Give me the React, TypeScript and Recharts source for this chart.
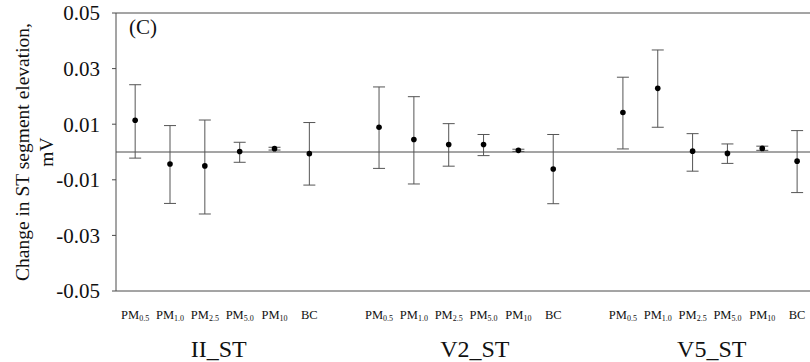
import {
  ComposedChart,
  Scatter,
  ErrorBar,
  XAxis,
  YAxis,
  ReferenceLine,
} from "recharts";

// change in ST segment elevation (mV), mean with 95% CI
const categories = ["PM0.5", "PM1.0", "PM2.5", "PM5.0", "PM10", "BC"];
const groups = ["II_ST", "V2_ST", "V5_ST"];
const groupLabelPos = [2.4, 9.75, 16.55];
const yTicks = [-0.05, -0.03, -0.01, 0.01, 0.03, 0.05];

const iiMean = [0.0114, -0.0043, -0.005, 0.0002, 0.0012, -0.0006];
const iiLow = [-0.0022, -0.0185, -0.0223, -0.0037, 0.0007, -0.0119];
const iiHigh = [0.0242, 0.0095, 0.0115, 0.0035, 0.0017, 0.0106];

const v2Mean = [0.0089, 0.0045, 0.0027, 0.0027, 0.0006, -0.0061];
const v2Low = [-0.0059, -0.0115, -0.0051, -0.0013, 0.0002, -0.0186];
const v2High = [0.0234, 0.0199, 0.0102, 0.0063, 0.001, 0.0063];

const v5Mean = [0.0142, 0.0229, 0.0003, -0.0005, 0.0013, -0.0033];
const v5Low = [0.0011, 0.0089, -0.0069, -0.0041, 0.0006, -0.0146];
const v5High = [0.0269, 0.0367, 0.0066, 0.0029, 0.0021, 0.0077];

const series = [
  { mean: iiMean, low: iiLow, high: iiHigh },
  { mean: v2Mean, low: v2Low, high: v2High },
  { mean: v5Mean, low: v5Low, high: v5High },
];

// one empty slot between groups
const data = series.flatMap((s, g) =>
  categories.map((label, i) => ({
    x: g * 7 + i,
    label,
    y: s.mean[i],
    err: [s.mean[i] - s.low[i], s.high[i] - s.mean[i]],
  }))
);

const FONT = "'Liberation Serif', 'Times New Roman', serif";
const AXIS = "#4a4a4a";

const CategoryTick = (props: any) => {
  const { x, y, payload } = props;
  const item = data.find((d) => d.x === payload.value);
  if (!item) return null;
  const isPM = item.label.startsWith("PM");
  return (
    <text x={x} y={y + 28} textAnchor="middle" fontFamily={FONT} fontSize={12.5} fill="#111">
      {isPM ? (
        <>
          <tspan>PM</tspan>
          <tspan fontSize={8} dy={2}>
            {item.label.slice(2)}
          </tspan>
        </>
      ) : (
        item.label
      )}
    </text>
  );
};

const GroupTick = (props: any) => {
  const { x, y, payload } = props;
  const idx = groupLabelPos.indexOf(payload.value);
  return (
    <text x={x} y={y + 30} textAnchor="middle" fontFamily={FONT} fontSize={24} fill="#111">
      {groups[idx]}
    </text>
  );
};

const YTitle = (props: any) => {
  const vb = props.viewBox;
  const cy = vb.y + vb.height / 2;
  return (
    <g fontFamily={FONT} fontSize={19.5} fill="#111">
      <text x={22} y={cy} transform={`rotate(-90 22 ${cy})`} textAnchor="middle" dominantBaseline="central">
        Change in ST segment elevation,
      </text>
      <text x={46} y={cy} transform={`rotate(-90 46 ${cy})`} textAnchor="middle" dominantBaseline="central">
        mV
      </text>
    </g>
  );
};

const PanelTag = (props: any) => {
  const vb = props.viewBox;
  return (
    <text x={vb.x + 13} y={vb.y + 21} fontFamily={FONT} fontSize={21} fill="#111">
      (C)
    </text>
  );
};

const Dot = (props: any) => <circle cx={props.cx} cy={props.cy} r={2.8} fill="#000" />;

export default function App() {
  return (
    <div style={{ width: 810, height: 362, background: "#fff" }}>
      <style>{`body{margin:0}`}</style>
      <ComposedChart
        width={810}
        height={362}
        data={data}
        margin={{ top: 13, right: 0, bottom: 0, left: 0 }}
      >
        <XAxis
          dataKey="x"
          type="number"
          domain={[-0.55, 19.37]}
          ticks={data.map((d) => d.x)}
          interval={0}
          tick={<CategoryTick />}
          tickLine={false}
          tickSize={0}
          tickMargin={0}
          height={36}
          axisLine={{ stroke: AXIS }}
          allowDataOverflow
        />
        <XAxis
          xAxisId="g"
          dataKey="x"
          type="number"
          domain={[-0.55, 19.37]}
          ticks={groupLabelPos}
          interval={0}
          tick={<GroupTick />}
          tickLine={false}
          tickSize={0}
          tickMargin={0}
          height={35}
          axisLine={false}
          allowDataOverflow
        />
        <YAxis
          type="number"
          domain={[-0.05, 0.05]}
          ticks={yTicks}
          interval={0}
          width={116}
          tickFormatter={(v: number) => v.toFixed(2)}
          tick={{ fontFamily: FONT, fontSize: 21, fill: "#111" }}
          tickSize={4}
          tickMargin={12}
          tickLine={{ stroke: AXIS }}
          axisLine={{ stroke: AXIS }}
          label={{ content: <YTitle /> }}
        />
        <ReferenceLine y={0.05} stroke={AXIS} label={{ content: <PanelTag /> }} />
        <ReferenceLine y={0} stroke={AXIS} />
        <Scatter dataKey="y" shape={<Dot />} isAnimationActive={false}>
          <ErrorBar dataKey="err" direction="y" width={6} stroke="#555" strokeWidth={1} />
        </Scatter>
      </ComposedChart>
    </div>
  );
}
